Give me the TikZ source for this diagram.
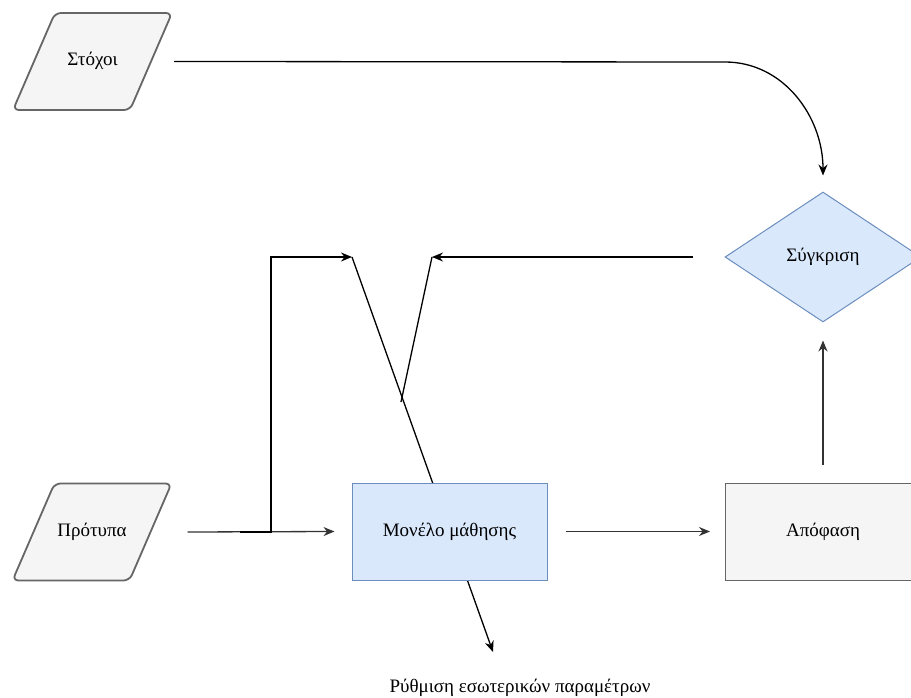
\documentclass[tikz,border=0pt]{standalone}
\usepackage{fontspec}
\setmainfont{Liberation Serif}
\usetikzlibrary{shapes.geometric,arrows.meta}
\definecolor{boxgray}{HTML}{F5F5F5}
\definecolor{linegray}{HTML}{666666}
\definecolor{boxblue}{HTML}{DAE8FC}
\definecolor{lineblue}{HTML}{6C8EBF}

\begin{document}
\begin{tikzpicture}[x=1pt,y=-1pt,font=\fontsize{19}{22}\selectfont,
  data/.style={trapezium,trapezium left angle=66.6,trapezium right angle=113.4,
    trapezium stretches body=true,minimum width=159pt,text height=13pt,text depth=4pt,
    inner xsep=0pt,inner ysep=40pt,
    draw=linegray,fill=boxgray,line width=1.8pt,rounded corners=6pt},
  proc/.style={rectangle,minimum width=195pt,minimum height=97pt,line width=1pt,inner sep=0pt},
  flow/.style={-{Stealth[length=11pt,width=9pt]},line width=1.3pt}]
  \useasboundingbox (0,0) rectangle (911,698);

  %knots of the feedback lines
  \coordinate (fork) at (240,532);
  \coordinate (knot) at (352,257);
  \coordinate (back) at (432,257);
  \coordinate (cross) at (401,402);
  \coordinate (tuneend) at (493,652);

  %the diagonal runs behind the model box
  \draw[flow] (knot) -- (tuneend);

  \node[data] (goal) at (92.5,61.5) {Στόχοι};
  \node[data] (pattern) at (92,532) {Πρότυπα};
  \node[proc,draw=lineblue,fill=boxblue] (model) at (449.5,531.5) {Μονέλο μάθησης};
  \node[proc,draw=linegray,fill=boxgray] (decision) at (823,531.5) {Απόφαση};
  \node[diamond,aspect=1.5,minimum width=196pt,minimum height=130pt,inner sep=0pt,
    draw=lineblue,fill=boxblue,line width=1pt] (compare) at (823,257) {Σύγκριση};
  \node (tune) at (520,688) {Ρύθμιση εσωτερικών παραμέτρων};

  %connectors
  \draw[flow] ([xshift=22pt]goal.east) -- (725,62) to[out=0,in=90] ([yshift=16pt]compare.north);
  \draw[flow,black!80] ([xshift=36pt]pattern.east) -- ([xshift=-17pt]model.west);
  \draw[flow] (fork) -- ++(31,0) |- (knot);
  \draw[flow] ([xshift=-32pt]compare.west) -- (back);
  \draw[line width=1.3pt] (back) -- (cross);
  \draw[flow,black!80] ([xshift=18pt]model.east) -- ([xshift=-15pt]decision.west);
  \draw[flow,black!80] ([yshift=18pt]decision.north) -- ([yshift=-18pt]compare.south);
\end{tikzpicture}
\end{document}
